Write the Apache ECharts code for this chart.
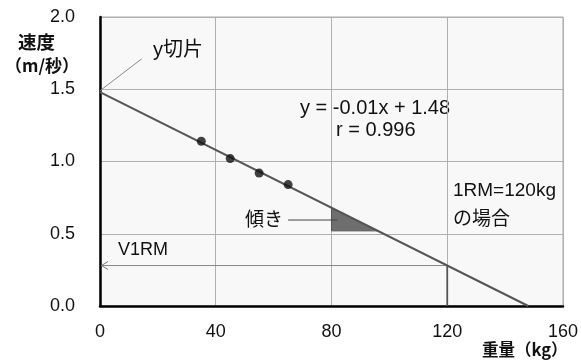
<!DOCTYPE html>
<html><head><meta charset="utf-8">
<script src="https://cdn.jsdelivr.net/npm/echarts@6/dist/echarts.min.js"></script>
<style>html,body{margin:0;padding:0;background:#fff}#c{width:581px;height:363px}</style>
</head><body><div id="c"></div>
<script>
// ---- data ----
const xTicks = [0, 40, 80, 120, 160];
const yTicks = [0.0, 0.5, 1.0, 1.5, 2.0];
const pointsX = [35, 45, 55, 65];
const pointsY = [1.14, 1.02, 0.92, 0.84];
const regressionLine = [[0, 1.48], [148, 0]];
const slopeTriangle = [[80, 0.68], [80, 0.52], [96, 0.52]];
const v1rmArrow = [[120, 0.28], [0, 0.28]];
const oneRmDrop = [[120, 0.28], [120, 0]];
const interceptLeader = [[0, 1.49], [14.4, 1.71]];
const slopeLeader = [[65, 0.595], [82, 0.595]];

const FONT = '"Liberation Sans", Arial, "Noto Sans CJK JP", sans-serif';
const CJK = '"Noto Sans CJK JP", "Liberation Sans", sans-serif';

const chart = echarts.init(document.getElementById('c'), null, {renderer: 'canvas'});

function txt(text, left, top, size, bold, family) {
  return {type: 'text', left: left, top: top, style: {text: text, fill: '#111',
    font: (bold ? 'bold ' : '') + size + 'px ' + (family || FONT)}};
}

const option = {
  animation: false,
  backgroundColor: '#fff',
  grid: {left: 100, right: 18, top: 17, bottom: 57, show: true,
    backgroundColor: '#f8f8f8', borderColor: '#aaaaaa', borderWidth: 1},
  xAxis: {type: 'value', min: xTicks[0], max: xTicks[xTicks.length - 1], interval: 40,
    axisLine: {show: true, lineStyle: {color: '#000', width: 2.5}},
    axisTick: {show: false},
    axisLabel: {color: '#111', fontSize: 18, fontFamily: FONT, margin: 17},
    splitLine: {show: true, lineStyle: {color: '#b0b0b0', width: 1}}},
  yAxis: {type: 'value', min: yTicks[0], max: yTicks[yTicks.length - 1], interval: 0.5,
    axisLine: {show: true, lineStyle: {color: '#000', width: 2.5}},
    axisTick: {show: false},
    axisLabel: {color: '#111', fontSize: 18, fontFamily: FONT, margin: 25,
      formatter: v => v.toFixed(1)},
    splitLine: {show: true, lineStyle: {color: '#b0b0b0', width: 1}}},
  series: [
    {type: 'custom', silent: true, z: 3, data: [[0]],
      renderItem: function (params, api) {
        const pts = slopeTriangle.map(p => api.coord(p));
        return {type: 'polygon', shape: {points: pts}, style: {fill: '#6e6e6e', stroke: '#555', lineWidth: 1}};
      }},
    {type: 'line', data: regressionLine, symbol: 'none', z: 4,
      lineStyle: {color: '#555', width: 2}},
    {type: 'line', data: oneRmDrop, symbol: 'none', z: 4,
      lineStyle: {color: '#555', width: 1.8}},
    {type: 'custom', silent: true, z: 4, data: [[0]],
      renderItem: function (params, api) {
        const a = api.coord(v1rmArrow[0]);
        const b = api.coord(v1rmArrow[1]);
        return {type: 'group', children: [
          {type: 'line', shape: {x1: a[0], y1: a[1], x2: b[0] + 1, y2: b[1]}, style: {stroke: '#888', lineWidth: 1}},
          {type: 'polyline', shape: {points: [[b[0] + 8, b[1] - 4], [b[0] + 1.5, b[1]], [b[0] + 8, b[1] + 4]]},
            style: {stroke: '#777', lineWidth: 1, fill: null}}
        ]};
      }},
    {type: 'line', data: interceptLeader, symbol: 'none', z: 4,
      lineStyle: {color: '#888', width: 1}},
    {type: 'line', data: slopeLeader, symbol: 'none', z: 5,
      lineStyle: {color: '#444', width: 1}},
    {type: 'scatter', data: pointsX.map((x, i) => [x, pointsY[i]]), symbolSize: 9, z: 6,
      itemStyle: {color: '#111'}}
  ],
  graphic: [
    txt('速度', 18, 33, 18.5, true, CJK),
    txt('（m/秒）', 5, 57, 17, true, CJK),
    txt('重量（kg）', 482, 341, 16.5, true, CJK),
    txt('y切片', 153, 40, 20, false, FONT),
    txt('y = -0.01x + 1.48', 300, 98, 20, false, FONT),
    txt('r = 0.996', 336, 120, 20, false, FONT),
    txt('1RM=120kg', 453, 181, 19, false, FONT),
    txt('の場合', 453, 208, 19, false, CJK),
    txt('傾き', 245, 209, 19, false, CJK),
    txt('V1RM', 118, 241, 18, false, FONT)
  ]
};
chart.setOption(option);
</script></body></html>
